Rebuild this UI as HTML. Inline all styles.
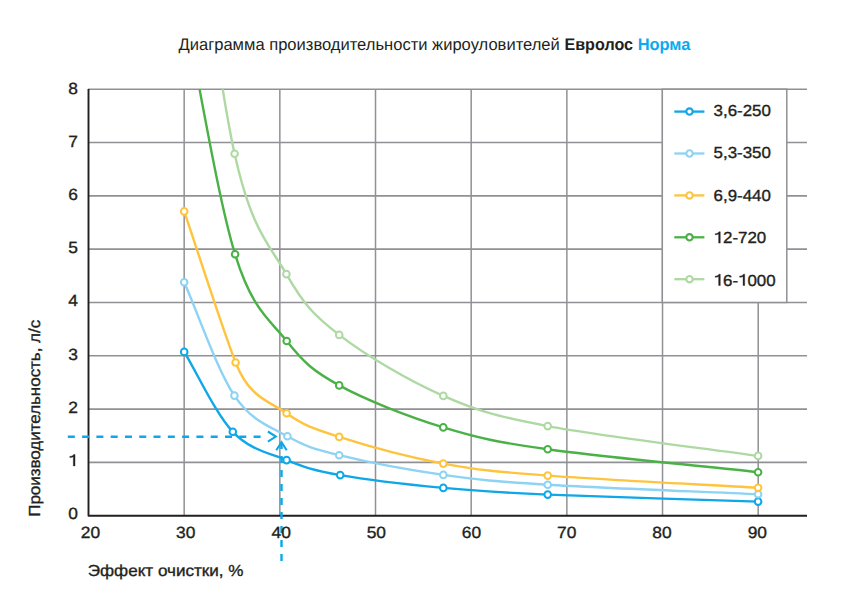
<!DOCTYPE html>
<html><head><meta charset="utf-8"><style>
html,body{margin:0;padding:0;background:#fff;}
body{width:859px;height:603px;overflow:hidden;position:relative;font-family:"Liberation Sans",sans-serif;}
svg{position:absolute;left:0;top:0;}
text{font-family:"Liberation Sans",sans-serif;text-rendering:geometricPrecision;}
.t{fill:#231f20;stroke:#231f20;stroke-width:0.35px;}
.ti{fill:#231f20;}
</style></head><body>
<svg width="859" height="603" viewBox="0 0 859 603">
<defs><clipPath id="c"><rect x="88" y="89.2" width="720" height="430"/></clipPath></defs>
<line x1="184.17" y1="89" x2="184.17" y2="515" stroke="#919094" stroke-width="1.5"/>
<line x1="279.84" y1="89" x2="279.84" y2="515" stroke="#919094" stroke-width="1.5"/>
<line x1="375.51" y1="89" x2="375.51" y2="515" stroke="#919094" stroke-width="1.5"/>
<line x1="471.18" y1="89" x2="471.18" y2="515" stroke="#919094" stroke-width="1.5"/>
<line x1="566.86" y1="89" x2="566.86" y2="515" stroke="#919094" stroke-width="1.5"/>
<line x1="662.53" y1="89" x2="662.53" y2="515" stroke="#919094" stroke-width="1.5"/>
<line x1="758.20" y1="89" x2="758.20" y2="515" stroke="#919094" stroke-width="1.5"/>
<line x1="88" y1="462.39" x2="807" y2="462.39" stroke="#919094" stroke-width="1.6"/>
<line x1="88" y1="409.08" x2="807" y2="409.08" stroke="#919094" stroke-width="1.6"/>
<line x1="88" y1="355.77" x2="807" y2="355.77" stroke="#919094" stroke-width="1.6"/>
<line x1="88" y1="302.46" x2="807" y2="302.46" stroke="#919094" stroke-width="1.6"/>
<line x1="88" y1="249.15" x2="807" y2="249.15" stroke="#919094" stroke-width="1.6"/>
<line x1="88" y1="195.84" x2="807" y2="195.84" stroke="#919094" stroke-width="1.6"/>
<line x1="88" y1="142.53" x2="807" y2="142.53" stroke="#919094" stroke-width="1.6"/>
<line x1="88" y1="89.22" x2="807" y2="89.22" stroke="#919094" stroke-width="1.6"/>
<polyline points="88.5,89.1 88.5,515.8 807,515.8" fill="none" stroke="#231f20" stroke-width="1.9" stroke-linejoin="round"/>
<g clip-path="url(#c)" fill="none" stroke-width="2.4" stroke-linejoin="round">
<path d="M184.2 351.9 C197.2 373.2 215.7 413.8 232.8 431.8 C249.9 449.8 268.7 452.9 286.6 460.1 C304.5 467.3 314.1 470.5 340.2 475.1 C366.3 479.7 408.7 484.6 443.3 487.9 C477.9 491.1 495.2 492.3 547.7 494.6 C600.2 496.9 702.0 499.7 758.1 501.6" stroke="#0ea7e7"/>
<path d="M184.2 282.3 C197.6 312.5 217.2 369.9 234.4 395.6 C251.6 421.3 269.9 426.4 287.4 436.3 C304.9 446.2 313.2 448.8 339.2 455.2 C365.2 461.6 408.6 470.0 443.3 474.9 C478.1 479.8 495.2 481.5 547.7 484.7 C600.2 487.9 702.0 491.7 758.1 494.3" stroke="#8dd3f3"/>
<path d="M184.2 211.4 C197.9 251.7 221.6 326.5 235.6 362.5 C249.6 398.5 269.3 400.9 286.6 413.3 C303.9 425.7 313.1 428.5 339.2 436.9 C365.3 445.3 408.6 457.2 443.3 463.6 C478.1 470.1 495.2 471.6 547.7 475.6 C600.2 479.6 702.0 484.5 758.1 487.7" stroke="#fec43e"/>
<path d="M183.7 6.6 C197.4 72.7 217.9 198.6 235.1 254.3 C252.3 310.0 269.3 319.1 286.7 341.0 C304.1 362.9 313.1 371.0 339.2 385.4 C365.3 399.8 408.6 416.8 443.3 427.4 C478.1 438.0 495.2 441.8 547.7 449.3 C600.2 456.8 702.0 466.1 758.1 472.2" stroke="#4ab146"/>
<path d="M183.7 -188.0 C197.3 -96.9 217.5 76.7 234.6 153.7 C251.7 230.7 269.0 243.9 286.4 274.1 C303.8 304.3 313.0 314.6 339.2 334.9 C365.4 355.2 408.6 380.7 443.3 395.9 C478.1 411.1 495.2 416.1 547.7 426.1 C600.2 436.1 702.0 448.0 758.1 455.9" stroke="#aed9a3"/>
</g>
<circle cx="184.2" cy="351.9" r="3.3" fill="#fff" stroke="#0ea7e7" stroke-width="2"/>
<circle cx="232.8" cy="431.8" r="3.3" fill="#fff" stroke="#0ea7e7" stroke-width="2"/>
<circle cx="286.6" cy="460.1" r="3.3" fill="#fff" stroke="#0ea7e7" stroke-width="2"/>
<circle cx="340.2" cy="475.1" r="3.3" fill="#fff" stroke="#0ea7e7" stroke-width="2"/>
<circle cx="443.3" cy="487.9" r="3.3" fill="#fff" stroke="#0ea7e7" stroke-width="2"/>
<circle cx="547.7" cy="494.6" r="3.3" fill="#fff" stroke="#0ea7e7" stroke-width="2"/>
<circle cx="758.1" cy="501.6" r="3.3" fill="#fff" stroke="#0ea7e7" stroke-width="2"/>
<circle cx="184.2" cy="282.3" r="3.3" fill="#fff" stroke="#8dd3f3" stroke-width="2"/>
<circle cx="234.4" cy="395.6" r="3.3" fill="#fff" stroke="#8dd3f3" stroke-width="2"/>
<circle cx="287.4" cy="436.3" r="3.3" fill="#fff" stroke="#8dd3f3" stroke-width="2"/>
<circle cx="339.2" cy="455.2" r="3.3" fill="#fff" stroke="#8dd3f3" stroke-width="2"/>
<circle cx="443.3" cy="474.9" r="3.3" fill="#fff" stroke="#8dd3f3" stroke-width="2"/>
<circle cx="547.7" cy="484.7" r="3.3" fill="#fff" stroke="#8dd3f3" stroke-width="2"/>
<circle cx="758.1" cy="494.3" r="3.3" fill="#fff" stroke="#8dd3f3" stroke-width="2"/>
<circle cx="184.2" cy="211.4" r="3.3" fill="#fff" stroke="#fec43e" stroke-width="2"/>
<circle cx="235.6" cy="362.5" r="3.3" fill="#fff" stroke="#fec43e" stroke-width="2"/>
<circle cx="286.6" cy="413.3" r="3.3" fill="#fff" stroke="#fec43e" stroke-width="2"/>
<circle cx="339.2" cy="436.9" r="3.3" fill="#fff" stroke="#fec43e" stroke-width="2"/>
<circle cx="443.3" cy="463.6" r="3.3" fill="#fff" stroke="#fec43e" stroke-width="2"/>
<circle cx="547.7" cy="475.6" r="3.3" fill="#fff" stroke="#fec43e" stroke-width="2"/>
<circle cx="758.1" cy="487.7" r="3.3" fill="#fff" stroke="#fec43e" stroke-width="2"/>
<circle cx="235.1" cy="254.3" r="3.3" fill="#fff" stroke="#4ab146" stroke-width="2"/>
<circle cx="286.7" cy="341.0" r="3.3" fill="#fff" stroke="#4ab146" stroke-width="2"/>
<circle cx="339.2" cy="385.4" r="3.3" fill="#fff" stroke="#4ab146" stroke-width="2"/>
<circle cx="443.3" cy="427.4" r="3.3" fill="#fff" stroke="#4ab146" stroke-width="2"/>
<circle cx="547.7" cy="449.3" r="3.3" fill="#fff" stroke="#4ab146" stroke-width="2"/>
<circle cx="758.1" cy="472.2" r="3.3" fill="#fff" stroke="#4ab146" stroke-width="2"/>
<circle cx="234.6" cy="153.7" r="3.3" fill="#fff" stroke="#aed9a3" stroke-width="2"/>
<circle cx="286.4" cy="274.1" r="3.3" fill="#fff" stroke="#aed9a3" stroke-width="2"/>
<circle cx="339.2" cy="334.9" r="3.3" fill="#fff" stroke="#aed9a3" stroke-width="2"/>
<circle cx="443.3" cy="395.9" r="3.3" fill="#fff" stroke="#aed9a3" stroke-width="2"/>
<circle cx="547.7" cy="426.1" r="3.3" fill="#fff" stroke="#aed9a3" stroke-width="2"/>
<circle cx="758.1" cy="455.9" r="3.3" fill="#fff" stroke="#aed9a3" stroke-width="2"/>
<line x1="67.8" y1="436.7" x2="262" y2="436.7" stroke="#0ea7e7" stroke-width="2.5" stroke-dasharray="7 7.29"/>
<polyline points="267.9,431.5 275.8,436.6 267.9,441.7" fill="none" stroke="#0ea7e7" stroke-width="2.1"/>
<line x1="281.5" y1="560.9" x2="281.5" y2="443" stroke="#0ea7e7" stroke-width="2.4" stroke-dasharray="7 7"/>
<polyline points="276.3,450.3 281.5,442.3 286.7,450.3" fill="none" stroke="#0ea7e7" stroke-width="2.1"/>
<rect x="662.3" y="89.2" width="124.5" height="213.25" fill="#fff" stroke="#919094" stroke-width="1.5"/>
<line x1="674.3" y1="111.6" x2="704.4" y2="111.6" stroke="#0ea7e7" stroke-width="2.3"/>
<circle cx="689.5" cy="111.6" r="3.2" fill="#fff" stroke="#0ea7e7" stroke-width="2.1"/>
<text class="t" font-size="16.0" transform="translate(713.62 115.90) scale(1.0555 1)">3,6-250</text>
<line x1="674.3" y1="153.5" x2="704.4" y2="153.5" stroke="#8dd3f3" stroke-width="2.3"/>
<circle cx="689.5" cy="153.5" r="3.2" fill="#fff" stroke="#8dd3f3" stroke-width="2.1"/>
<text class="t" font-size="16.0" transform="translate(713.62 158.30) scale(1.0555 1)">5,3-350</text>
<line x1="674.3" y1="195.4" x2="704.4" y2="195.4" stroke="#fec43e" stroke-width="2.3"/>
<circle cx="689.5" cy="195.4" r="3.2" fill="#fff" stroke="#fec43e" stroke-width="2.1"/>
<text class="t" font-size="16.0" transform="translate(713.62 200.70) scale(1.0555 1)">6,9-440</text>
<line x1="674.3" y1="237.3" x2="704.4" y2="237.3" stroke="#4ab146" stroke-width="2.3"/>
<circle cx="689.5" cy="237.3" r="3.2" fill="#fff" stroke="#4ab146" stroke-width="2.1"/>
<text class="t" font-size="16.0" transform="translate(713.62 243.10) scale(1.0555 1)"> 2-720</text><path class="t" transform="translate(713.62 243.10) scale(1.0555 1)" d="M6.32 0.00 L6.32 -11.36 L5.09 -11.36 C4.80 -10.16 3.44 -9.57 1.52 -9.47 L1.52 -8.24 C2.96 -8.24 4.08 -8.48 4.75 -9.04 L4.75 0.00 Z"/>
<line x1="674.3" y1="279.2" x2="704.4" y2="279.2" stroke="#aed9a3" stroke-width="2.3"/>
<circle cx="689.5" cy="279.2" r="3.2" fill="#fff" stroke="#aed9a3" stroke-width="2.1"/>
<text class="t" font-size="16.0" transform="translate(713.62 285.50) scale(1.0555 1)"> 6- 000</text><path class="t" transform="translate(713.62 285.50) scale(1.0555 1)" d="M6.32 0.00 L6.32 -11.36 L5.09 -11.36 C4.80 -10.16 3.44 -9.57 1.52 -9.47 L1.52 -8.24 C2.96 -8.24 4.08 -8.48 4.75 -9.04 L4.75 0.00 ZM29.45 0.00 L29.45 -11.36 L28.21 -11.36 C27.93 -10.16 26.57 -9.57 24.65 -9.47 L24.65 -8.24 C26.09 -8.24 27.21 -8.48 27.88 -9.04 L27.88 0.00 Z"/>
<text class="t" font-size="16.2" transform="translate(68.15 519.11) scale(1.0728 1)">0</text>
<text class="t" font-size="16.2" transform="translate(68.15 465.94) scale(1.0728 1)"> </text><path class="t" transform="translate(68.15 465.94) scale(1.0728 1)" d="M6.40 0.00 L6.40 -11.50 L5.15 -11.50 C4.86 -10.29 3.48 -9.69 1.54 -9.59 L1.54 -8.34 C3.00 -8.34 4.13 -8.59 4.81 -9.15 L4.81 0.00 Z"/>
<text class="t" font-size="16.2" transform="translate(68.15 412.77) scale(1.0728 1)">2</text>
<text class="t" font-size="16.2" transform="translate(68.15 359.60) scale(1.0728 1)">3</text>
<text class="t" font-size="16.2" transform="translate(68.15 306.43) scale(1.0728 1)">4</text>
<text class="t" font-size="16.2" transform="translate(68.15 253.26) scale(1.0728 1)">5</text>
<text class="t" font-size="16.2" transform="translate(68.15 200.09) scale(1.0728 1)">6</text>
<text class="t" font-size="16.2" transform="translate(68.15 146.92) scale(1.0728 1)">7</text>
<text class="t" font-size="16.2" transform="translate(68.15 93.75) scale(1.0728 1)">8</text>
<text class="t" font-size="16.2" transform="translate(80.77 537.90) scale(1.0728 1)">20</text>
<text class="t" font-size="16.2" transform="translate(176.11 537.90) scale(1.0728 1)">30</text>
<text class="t" font-size="16.2" transform="translate(271.51 537.90) scale(1.0728 1)">40</text>
<text class="t" font-size="16.2" transform="translate(366.63 537.90) scale(1.0728 1)">50</text>
<text class="t" font-size="16.2" transform="translate(461.81 537.90) scale(1.0728 1)">60</text>
<text class="t" font-size="16.2" transform="translate(557.07 537.90) scale(1.0728 1)">70</text>
<text class="t" font-size="16.2" transform="translate(652.37 537.90) scale(1.0728 1)">80</text>
<text class="t" font-size="16.2" transform="translate(747.63 537.90) scale(1.0728 1)">90</text>
<text class="t" font-size="16.0" transform="translate(87.76 575.70) scale(1.0680 1)">Эффект очистки, %</text>
<text class="t" font-size="16.0" transform="translate(39.90 0) rotate(-90) translate(-516.76 0) scale(1.0590 1)">Производительность, л/с</text>
<text class="ti" font-size="16.8" transform="translate(178.52 49.70) scale(0.9862 1)">Диаграмма производительности жироуловителей</text>
<text class="ti" font-size="16.8" font-weight="bold" transform="translate(564.45 49.70) scale(0.9601 1)">Евролос</text>
<text class="ti" font-size="16.8" font-weight="bold" style="fill:#08abef" transform="translate(637.63 49.70) scale(0.9773 1)">Норма</text>
</svg>
</body></html>
